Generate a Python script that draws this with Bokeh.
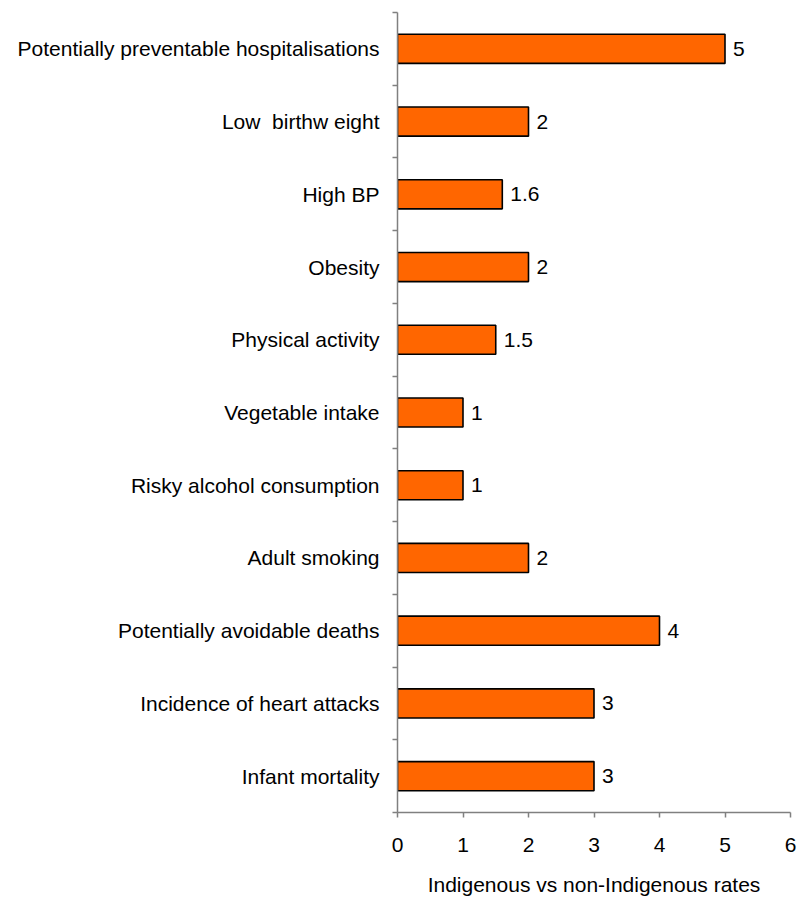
from bokeh.plotting import figure
from bokeh.models import ColumnDataSource, Range1d, FixedTicker
from bokeh.core.properties import value
from bokeh.embed import file_html
from bokeh.resources import INLINE

# Indicators, listed top to bottom
categories = [
    "Potentially preventable hospitalisations",
    "Low\u00a0 birthw eight",
    "High BP",
    "Obesity",
    "Physical activity",
    "Vegetable intake",
    "Risky alcohol consumption",
    "Adult smoking",
    "Potentially avoidable deaths",
    "Incidence of heart attacks",
    "Infant mortality",
]
rates = [5, 2, 1.6, 2, 1.5, 1, 1, 2, 4, 3, 3]
rate_labels = ["5", "2", "1.6", "2", "1.5", "1", "1", "2", "4", "3", "3"]
x_ticks = [0, 1, 2, 3, 4, 5, 6]

n = len(categories)
ypos = [n - i - 0.5 for i in range(n)]

source = ColumnDataSource(dict(cat=categories, rate=rates, label=rate_labels, y=ypos))

FONT = "Liberation Sans"

p = figure(
    width=798, height=900,
    x_range=Range1d(0, 6), y_range=Range1d(0, n),
    output_backend="svg", toolbar_location=None,
    min_border_left=397, min_border_right=8,
    min_border_top=12, min_border_bottom=88,
)
p.outline_line_color = None
p.xgrid.grid_line_color = None
p.ygrid.grid_line_color = None
p.background_fill_color = "white"
p.border_fill_color = "white"

p.hbar(y="y", right="rate", left=0, height=0.4, source=source,
       fill_color="#FF6600", line_color="black", line_width=1.6)

p.text(x="rate", y="y", text="label", source=source,
       x_offset=8, text_baseline="middle", text_align="left",
       text_font=value(FONT), text_font_size="21px", text_color="black")

# x axis
xa = p.xaxis[0]
xa.ticker = FixedTicker(ticks=x_ticks)
xa.axis_line_color = "#808080"
xa.axis_line_width = 1.5
xa.major_tick_line_color = "#808080"
xa.major_tick_line_width = 1.5
xa.major_tick_out = 5
xa.major_tick_in = 0
xa.minor_tick_line_color = None
xa.major_label_text_font = FONT
xa.major_label_text_font_size = "21px"
xa.major_label_text_color = "black"
xa.major_label_standoff = 20
xa.axis_label = "Indigenous vs non-Indigenous rates"
xa.axis_label_text_font = FONT
xa.axis_label_text_font_size = "21px"
xa.axis_label_text_font_style = "normal"
xa.axis_label_text_color = "black"
xa.axis_label_standoff = 18

# y axis: names at band centres, tick marks at band boundaries
ya = p.yaxis[0]
ya.ticker = FixedTicker(ticks=ypos, minor_ticks=list(range(n + 1)))
ya.major_label_overrides = {y: c for y, c in zip(ypos, categories)}
ya.axis_line_color = "#808080"
ya.axis_line_width = 1.5
ya.major_tick_line_color = None
ya.major_tick_out = 0
ya.major_tick_in = 0
ya.minor_tick_line_color = "#808080"
ya.minor_tick_line_width = 1.5
ya.minor_tick_out = 5
ya.minor_tick_in = 0
ya.major_label_text_font = FONT
ya.major_label_text_font_size = "21px"
ya.major_label_text_color = "black"
ya.major_label_standoff = 13

open("out.html", "w").write(file_html(p, INLINE))
